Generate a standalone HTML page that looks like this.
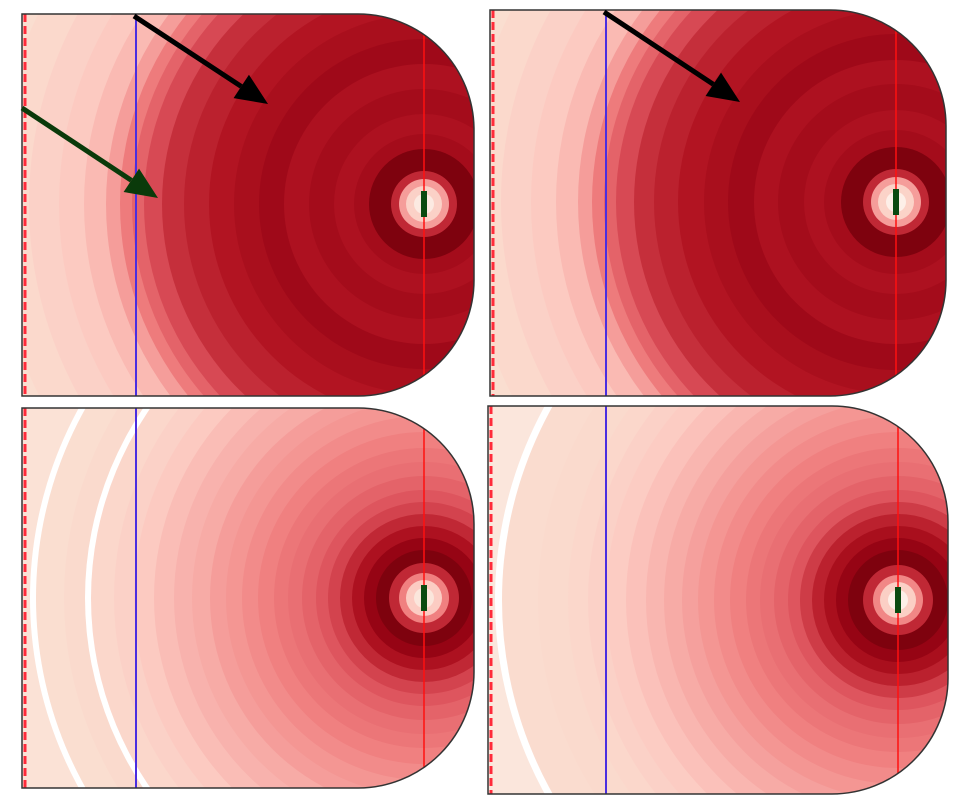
<!DOCTYPE html>
<html><head><meta charset="utf-8"><style>
html,body{margin:0;padding:0;background:#fff;overflow:hidden;width:961px;height:811px;}
svg{display:block;}
</style></head><body>
<svg id="chart" width="961" height="811" viewBox="0 0 961 811" xmlns="http://www.w3.org/2000/svg"></svg>
<script>
// Ring outer radii (px from source) and intensity levels (0..1) per panel
const ringsTL = [10,18,25,33,55,70,90,115,140,165,190,215,240,262,280,292,304,318,340,365,395,430,520];
const levelsTL = [0.05,0.15,0.32,0.72,0.96,0.84,0.80,0.84,0.80,0.86,0.82,0.78,0.74,0.70,0.62,0.52,0.42,0.32,0.24,0.19,0.15,0.11,0.08];
const ringsTR = [10,18,25,33,55,72,92,118,142,168,192,218,242,262,280,292,304,318,340,365,395,430,520];
const levelsTR = [0.04,0.14,0.32,0.72,0.96,0.84,0.80,0.84,0.80,0.86,0.82,0.78,0.74,0.70,0.62,0.52,0.42,0.32,0.24,0.19,0.15,0.11,0.08];
const ringsBL = [10,18,25,35,48,60,72,84,96,108,122,136,150,166,182,198,214,232,250,270,290,310,333,339,360,388,394,520];
const levelsBL = [0.06,0.18,0.40,0.72,0.96,0.90,0.80,0.72,0.64,0.58,0.52,0.47,0.44,0.40,0.37,0.34,0.32,0.28,0.26,0.23,0.19,0.15,0.12,0.0,0.10,0.08,0.0,0.07];
const ringsBR = [10,18,25,35,50,62,74,86,98,110,124,138,152,168,184,200,216,234,252,272,292,310,330,360,396,403,520];
const levelsBR = [0.04,0.16,0.38,0.72,0.96,0.90,0.82,0.74,0.66,0.58,0.52,0.47,0.44,0.40,0.37,0.34,0.31,0.28,0.25,0.22,0.18,0.15,0.12,0.10,0.09,0.0,0.06];

const stops=[[0,[255,255,255]],[0.08,[250,222,208]],[0.2,[252,200,192]],[0.4,[240,128,128]],[0.6,[220,80,90]],[0.78,[178,20,34]],[0.9,[150,4,20]],[1,[110,0,10]]];
function cmap(v){
  for(let i=1;i<stops.length;i++){
    if(v<=stops[i][0]){const a=stops[i-1],b=stops[i];const t=(v-a[0])/(b[0]-a[0]);
      const c=a[1].map((x,k)=>Math.round(x+(b[1][k]-x)*t));return `rgb(${c})`;}
  }
  return 'rgb(110,0,10)';
}
const NS='http://www.w3.org/2000/svg';
const svg=document.getElementById('chart');
function mk(tag,attrs,parent){const e=document.createElementNS(NS,tag);for(const k in attrs)e.setAttribute(k,attrs[k]);(parent||svg).appendChild(e);return e;}

const panels=[
 {id:'top-left',x0:22,x1:474,y0:14,y1:396,cx:424,cy:204,blue:136,rings:ringsTL,levels:levelsTL},
 {id:'top-right',x0:490,x1:946,y0:10,y1:396,cx:896,cy:202,blue:606,rings:ringsTR,levels:levelsTR},
 {id:'bottom-left',x0:22,x1:474,y0:408,y1:788,cx:424,cy:598,blue:136,rings:ringsBL,levels:levelsBL},
 {id:'bottom-right',x0:488,x1:948,y0:406,y1:794,cx:898,cy:600,blue:606,rings:ringsBR,levels:levelsBR}
];
const defs=mk('defs',{});
panels.forEach((p,pi)=>{
  const R=116;
  const d=`M${p.x0},${p.y0} L${p.x1-R},${p.y0} A${R},${R} 0 0 1 ${p.x1},${p.y0+R} L${p.x1},${p.y1-R} A${R},${R} 0 0 1 ${p.x1-R},${p.y1} L${p.x0},${p.y1} Z`;
  const cp=mk('clipPath',{id:'clip'+pi},defs);mk('path',{d:d},cp);
  const g=mk('g',{'clip-path':`url(#clip${pi})`});
  
  
  mk('rect',{x:p.x0,y:p.y0,width:p.x1-p.x0,height:p.y1-p.y0,fill:'#fff'},g);
  for(let i=p.rings.length-1;i>=0;i--){
    const c=mk('circle',{cx:p.cx,cy:p.cy,r:p.rings[i],fill:cmap(p.levels[i])},g);
    
    
  }
  const bl=mk('line',{x1:p.blue,x2:p.blue,y1:p.y0,y2:p.y1,stroke:'#4a2ee0','stroke-width':2},g);
  
  
  const rl=mk('line',{x1:p.cx,x2:p.cx,y1:p.y0,y2:p.y1,stroke:'#ff1010','stroke-width':1.5},g);
  
  
  const dl=mk('line',{x1:p.x0+3,x2:p.x0+3,y1:p.y0,y2:p.y1,stroke:'#ff2a3a','stroke-width':3,'stroke-dasharray':'8,4'},g);
  
  
  const src=mk('rect',{x:p.cx-3,y:p.cy-13,width:6,height:26,fill:'#0a4a10'},g);
  
  
  const ol=mk('path',{d:d,fill:'none',stroke:'#333','stroke-width':1.5});
  
  
});
function arrow(x1,y1,x2,y2,col,name){
  const ang=Math.atan2(y2-y1,x2-x1),L=32,W=14;
  const bx=x2-L*Math.cos(ang),by=y2-L*Math.sin(ang);
  const g=mk('g',{});
  
  
  mk('line',{x1:x1,y1:y1,x2:bx,y2:by,stroke:col,'stroke-width':5},g);
  const px=-Math.sin(ang)*W,py=Math.cos(ang)*W;
  mk('polygon',{points:`${x2},${y2} ${bx+px},${by+py} ${bx-px},${by-py}`,fill:col},g);
}
arrow(134,16,268,104,'#000','black-arrow-left');
arrow(22,108,158,198,'#0a3a0a','green-arrow');
arrow(604,12,740,102,'#000','black-arrow-right');
</script>
</body></html>
